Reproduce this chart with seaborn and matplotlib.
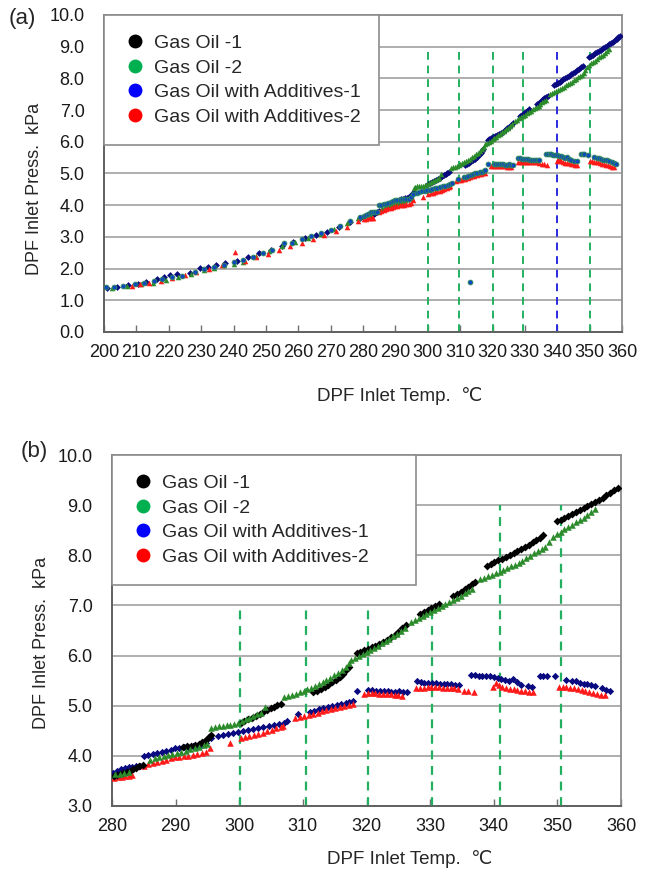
import matplotlib
matplotlib.use("Agg")
import matplotlib.pyplot as plt
from matplotlib.lines import Line2D
from matplotlib.ticker import FormatStrFormatter, MultipleLocator
import pandas as pd
import seaborn as sns

sns.set_theme(style="white")
plt.rcParams["font.family"] = ["Liberation Sans", "DejaVu Sans"]

# ---------------- data (deg C, kPa) ----------------
# 280-360 degC range (shown in both panels)
go1_hi_t = [280.3, 280.8, 281.3, 281.8, 282.3, 282.8, 283.3, 283.8, 284.3, 284.8,
            291.2, 291.8, 292.4, 293.0, 293.6, 294.1, 294.6, 295.0, 295.3, 295.6,
            300.2, 300.8, 301.4, 302.0, 302.6, 303.2, 303.8, 304.4, 305.0, 305.5, 306.0, 306.5,
            311.6, 312.2, 312.8, 313.4, 314.0, 314.6, 315.2, 315.8, 316.3, 316.8, 317.2,
            318.5, 319.0, 319.6, 320.2, 320.8, 321.4, 322.0, 322.6, 323.2, 323.8, 324.4, 325.0, 325.6, 326.2,
            328.4, 329.0, 329.6, 330.2, 330.8, 331.4,
            333.6, 334.2, 334.8, 335.4, 336.0, 336.6, 337.1,
            338.9, 339.5, 340.1, 340.7, 341.3, 341.9, 342.5, 343.1, 343.7, 344.3, 344.9, 345.5,
            346.1, 346.7, 347.3, 347.8,
            349.9, 350.5, 351.1, 351.7, 352.3, 352.9, 353.5, 354.1, 354.7, 355.3, 355.9, 356.5,
            357.1, 357.7, 358.3, 358.9, 359.5]
go1_hi_p = [3.60, 3.62, 3.64, 3.66, 3.68, 3.70, 3.73, 3.76, 3.79, 3.82,
            4.17, 4.19, 4.20, 4.22, 4.24, 4.27, 4.30, 4.34, 4.38, 4.42,
            4.66, 4.70, 4.73, 4.76, 4.80, 4.84, 4.87, 4.91, 4.95, 4.98, 5.01, 5.04,
            5.27, 5.30, 5.34, 5.38, 5.42, 5.47, 5.52, 5.58, 5.64, 5.71, 5.78,
            6.05, 6.08, 6.11, 6.14, 6.17, 6.20, 6.24, 6.28, 6.32, 6.37, 6.42, 6.48, 6.54, 6.60,
            6.82, 6.86, 6.90, 6.94, 6.98, 7.02,
            7.18, 7.22, 7.27, 7.32, 7.37, 7.42, 7.46,
            7.78, 7.82, 7.86, 7.90, 7.93, 7.97, 8.01, 8.05, 8.09, 8.13, 8.17, 8.21,
            8.26, 8.30, 8.35, 8.40,
            8.68, 8.71, 8.75, 8.79, 8.83, 8.87, 8.91, 8.95, 8.99, 9.03, 9.07, 9.11,
            9.15, 9.20, 9.25, 9.30, 9.35]

go2_hi_t = [280.5, 281.2, 281.9, 282.6,
            286.0, 286.7, 287.4, 288.1, 288.8, 289.5, 290.2, 290.9, 291.6, 292.3, 293.0, 293.7, 294.4, 295.0,
            295.6, 296.2, 296.8, 297.4, 298.0, 298.6, 299.2, 299.8,
            300.4, 301.0, 301.6, 302.2, 302.8, 303.4, 304.0,
            307.1, 307.7, 308.3, 308.9, 309.5, 310.1, 310.7, 311.3, 311.9, 312.5, 313.1, 313.7,
            314.3, 314.9, 315.5, 316.1, 316.7, 317.3,
            317.6, 318.2, 318.8, 319.4, 320.0, 320.6, 321.2, 321.8, 322.4, 323.0, 323.6, 324.2,
            324.8, 325.4, 326.0,
            327.0, 327.6, 328.2, 328.8, 329.4, 330.0, 330.6, 331.2, 331.8, 332.4, 333.0, 333.6,
            334.2, 334.8, 335.4, 336.0, 336.5,
            337.9, 338.5, 339.1, 339.7, 340.3, 340.9, 341.5, 342.1, 342.7, 343.3, 343.9, 344.5,
            345.1, 345.7, 346.3, 346.9, 347.5, 348.1, 348.7, 349.3,
            349.9, 350.5, 351.1, 351.7, 352.3, 352.9, 353.5, 354.1, 354.7, 355.3, 355.9]
go2_hi_p = [3.63, 3.64, 3.66, 3.68,
            3.92, 3.95, 3.97, 4.00, 4.02, 4.04, 4.06, 4.08, 4.10, 4.13, 4.15, 4.18, 4.21, 4.24,
            4.55, 4.57, 4.59, 4.60, 4.61, 4.62, 4.64, 4.66,
            4.70, 4.73, 4.76, 4.80, 4.83, 4.86, 4.98,
            5.17, 5.19, 5.21, 5.24, 5.27, 5.30, 5.33, 5.36, 5.39, 5.43, 5.47, 5.51,
            5.56, 5.61, 5.66, 5.72, 5.78, 5.85,
            5.92, 5.96, 6.00, 6.04, 6.08, 6.12, 6.16, 6.20, 6.25, 6.30, 6.34, 6.39,
            6.44, 6.49, 6.55,
            6.66, 6.70, 6.74, 6.78, 6.82, 6.86, 6.90, 6.94, 6.98, 7.02, 7.06, 7.10,
            7.14, 7.19, 7.24, 7.29, 7.33,
            7.52, 7.55, 7.58, 7.61, 7.64, 7.67, 7.70, 7.74, 7.78, 7.81, 7.85, 7.89,
            7.94, 7.98, 8.04, 8.08, 8.12, 8.16, 8.26, 8.36,
            8.42, 8.47, 8.52, 8.56, 8.61, 8.66, 8.70, 8.75, 8.80, 8.86, 8.92]

goa1_hi_t = [280.2, 280.8, 281.4, 282.0, 282.6, 283.2, 283.8, 284.4,
             285.0, 285.7, 286.4, 287.1, 287.8, 288.5, 289.2, 289.9, 290.6, 291.3, 292.0, 292.7,
             293.4, 294.1, 294.8, 295.5,
             296.6, 297.4, 298.2, 299.0, 299.8, 300.6, 301.4, 302.2, 303.0, 303.8, 304.6, 305.4,
             306.2, 307.0, 307.5,
             309.3, 311.1, 311.8, 312.5, 313.2, 313.9, 314.6, 315.3, 316.0, 316.7, 317.3, 317.8,
             318.5, 320.3, 320.9, 321.5, 322.1, 322.7, 323.3, 323.9, 324.5, 325.1, 325.7, 326.3,
             327.9, 328.5, 329.1, 329.7, 330.3, 330.9, 331.5, 332.1, 332.7, 333.3, 333.9, 334.5,
             336.4, 337.0, 337.6, 338.2, 338.8, 339.4, 340.0, 340.6, 341.2, 341.8, 342.4, 343.0,
             343.6, 344.2, 345.3, 346.0,
             347.3, 347.8, 348.4, 349.6, 351.3, 352.3, 352.9, 353.5, 354.1, 354.7, 355.3, 355.9,
             357.0, 357.6, 358.2]
goa1_hi_p = [3.66, 3.70, 3.73, 3.75, 3.77, 3.78, 3.79, 3.80,
             4.00, 4.02, 4.03, 4.05, 4.07, 4.09, 4.12, 4.15, 4.16, 4.17, 4.18, 4.19,
             4.20, 4.21, 4.25, 4.35,
             4.40, 4.42, 4.44, 4.45, 4.47, 4.49, 4.51, 4.53, 4.55, 4.57, 4.59, 4.61,
             4.63, 4.66, 4.69,
             4.84, 4.88, 4.90, 4.93, 4.96, 4.98, 5.00, 5.02, 5.04, 5.06, 5.08, 5.10,
             5.29, 5.31, 5.31, 5.30, 5.30, 5.29, 5.29, 5.28, 5.28, 5.29, 5.28, 5.28,
             5.50, 5.48, 5.46, 5.46, 5.45, 5.45, 5.44, 5.44, 5.43, 5.43, 5.42, 5.42,
             5.61, 5.61, 5.60, 5.60, 5.59, 5.59, 5.58, 5.56, 5.54, 5.52, 5.50, 5.53,
             5.47, 5.41, 5.39, 5.38,
             5.60, 5.60, 5.60, 5.59, 5.52, 5.50, 5.49, 5.46, 5.44, 5.43, 5.41, 5.39,
             5.35, 5.32, 5.30]

goa2_hi_t = [280.3, 280.9, 281.5, 282.1, 282.7, 283.2,
             285.0, 285.7, 286.4, 287.1, 287.8, 288.5, 289.2, 289.9, 290.6, 291.3, 292.0, 292.7,
             293.4, 294.1, 294.8, 295.4,
             298.6, 300.2, 300.9, 301.6, 302.3, 303.0, 303.7, 304.4, 305.1, 305.8, 306.5, 306.9,
             308.8, 309.5, 310.2, 310.9, 311.6, 312.3, 313.0, 313.7, 314.4, 315.1, 315.8, 316.5,
             317.2, 317.8,
             319.6, 320.2, 320.8, 321.4, 322.0, 322.6, 323.2, 323.8, 324.4, 325.0, 325.6,
             327.8, 328.4, 329.0, 329.6, 330.2, 330.8, 331.4, 332.0, 332.6, 333.2, 333.8, 334.4,
             335.3, 336.0, 336.9,
             339.9, 340.3, 340.8, 341.3, 341.9, 342.5, 343.1, 343.7, 344.3, 344.9, 345.5, 346.1,
             350.2, 350.8, 351.4, 352.0, 352.6, 353.2, 353.8, 354.4, 355.0, 355.6, 356.2, 356.8,
             357.4]
goa2_hi_p = [3.56, 3.57, 3.58, 3.59, 3.60, 3.61,
             3.80, 3.83, 3.85, 3.87, 3.90, 3.92, 3.95, 3.97, 3.98, 3.99, 4.00, 4.02,
             4.03, 4.05, 4.08, 4.15,
             4.25, 4.35, 4.37, 4.39, 4.41, 4.44, 4.46, 4.49, 4.52, 4.55, 4.57, 4.59,
             4.76, 4.78, 4.80, 4.82, 4.84, 4.86, 4.89, 4.91, 4.93, 4.95, 4.97, 4.99,
             5.01, 5.03,
             5.24, 5.25, 5.25, 5.25, 5.24, 5.24, 5.23, 5.23, 5.22, 5.21, 5.20,
             5.35, 5.35, 5.36, 5.37, 5.37, 5.37, 5.37, 5.36, 5.36, 5.36, 5.35, 5.34,
             5.30, 5.30, 5.28,
             5.38, 5.46, 5.42, 5.38, 5.36, 5.34, 5.33, 5.32, 5.30, 5.29, 5.28, 5.28,
             5.38, 5.38, 5.37, 5.36, 5.36, 5.33, 5.31, 5.30, 5.28, 5.26, 5.24, 5.22,
             5.21]

# 200-280 degC range (panel a only)
go1_lo_t = [201.0, 204.0, 207.5, 210.5, 213.0, 216.5, 218.5, 220.5, 222.5, 226.5, 229.5, 232.0,
            234.5, 237.5, 241.0, 244.5, 248.0, 251.5, 255.0, 258.5, 262.0, 265.5, 269.0, 272.5,
            276.0, 279.0]
go1_lo_p = [1.40, 1.43, 1.48, 1.52, 1.58, 1.66, 1.74, 1.80, 1.84, 1.86, 2.02, 2.06,
            2.10, 2.17, 2.25, 2.36, 2.48, 2.58, 2.70, 2.85, 2.95, 3.05, 3.15, 3.30,
            3.48, 3.58]
go2_lo_t = [202.5, 207.0, 211.5, 215.0, 219.0, 223.0, 227.0, 231.0, 234.0, 237.0, 240.0, 243.0,
            247.0, 251.0, 255.0, 259.0, 263.0, 267.0, 271.0, 275.0, 278.5]
go2_lo_p = [1.40, 1.45, 1.50, 1.56, 1.64, 1.72, 1.83, 1.96, 2.03, 2.10, 2.15, 2.22,
            2.40, 2.55, 2.70, 2.84, 2.96, 3.08, 3.24, 3.45, 3.60]
goa1_lo_t = [200.5, 203.0, 206.0, 209.5, 212.5, 215.5, 218.0, 221.0, 224.0, 228.0, 231.0, 234.0,
             237.0, 240.0, 243.0, 246.0, 249.0, 252.0, 255.5, 258.0, 261.0, 264.0, 267.0, 270.0,
             273.0, 276.0, 279.0, 313.1]
goa1_lo_p = [1.41, 1.42, 1.46, 1.52, 1.55, 1.61, 1.66, 1.72, 1.78, 1.90, 2.00, 2.06,
             2.12, 2.20, 2.28, 2.38, 2.48, 2.58, 2.80, 2.82, 2.92, 3.02, 3.12, 3.22,
             3.35, 3.50, 3.62, 1.57]
goa2_lo_t = [208.5, 211.0, 214.0, 217.5, 221.0, 225.0, 228.5, 232.5, 236.5, 240.5, 243.5, 247.0,
             250.5, 254.0, 257.5, 261.0, 264.5, 268.0, 271.5, 275.0, 278.5]
goa2_lo_p = [1.45, 1.50, 1.56, 1.62, 1.70, 1.80, 1.90, 2.00, 2.10, 2.53, 2.24, 2.36,
             2.47, 2.58, 2.70, 2.82, 2.93, 3.05, 3.18, 3.32, 3.50]

labels = ["Gas Oil -1", "Gas Oil -2", "Gas Oil with Additives-1", "Gas Oil with Additives-2"]
legend_colors = ["black", "#00b050", "#0000ff", "#ff0000"]

# dashed reference temperatures
a_vlines = [300.0, 309.6, 320.0, 329.5, 340.0, 350.0]
a_vline_colors = ["#22b060", "#22b060", "#22b060", "#22b060", "#2a2ae0", "#22b060"]
b_vlines = [300.1, 310.5, 320.3, 330.3, 340.9, 350.5]
b_vline_tops = [7.0, 7.0, 7.0, 7.0, 9.0, 9.0]


def style_axes(ax, xlim, ylim, xlabel_pos, ylabel_pos):
    ax.set_xlim(*xlim)
    ax.set_ylim(*ylim)
    ax.yaxis.set_major_locator(MultipleLocator(1))
    ax.yaxis.set_major_formatter(FormatStrFormatter("%.1f"))
    ax.xaxis.set_major_locator(MultipleLocator(10))
    ax.yaxis.grid(True, color="#a8a8a8", lw=1.3)
    ax.xaxis.grid(False)
    ax.set_axisbelow(True)
    for side in ["top", "right"]:
        ax.spines[side].set_color("#8c8c8c")
        ax.spines[side].set_linewidth(1.3)
    for side in ["left", "bottom"]:
        ax.spines[side].set_color("#606060")
        ax.spines[side].set_linewidth(1.4)
    ax.tick_params(axis="y", length=0, pad=14, labelsize=13, colors="#1a1a1a")
    ax.tick_params(axis="x", direction="in", length=5, width=1, color="#707070",
                   pad=9, labelsize=13, labelcolor="#1a1a1a", bottom=True)
    ax.set_xlabel("DPF Inlet Temp.  \u2103", fontsize=13.5)
    ax.set_ylabel("DPF Inlet Press.  kPa", fontsize=13)
    ax.xaxis.set_label_coords(*xlabel_pos)
    ax.yaxis.set_label_coords(*ylabel_pos)


def add_legend(ax, width):
    handles = [Line2D([], [], ls="none", marker="o", markersize=10, color=c,
                      markeredgewidth=0) for c in legend_colors]
    leg = ax.legend(handles, labels, loc="upper left", bbox_to_anchor=(0, 1, width, 0),
                    mode="expand", borderaxespad=0, fancybox=False, framealpha=1,
                    edgecolor="#8c8c8c", fontsize=14, handletextpad=0.35,
                    handlelength=1.2, labelspacing=0.36, borderpad=1.0)
    leg.get_frame().set_linewidth(1.2)
    leg.set_zorder(5)


fig = plt.figure(figsize=(6.51, 8.72), dpi=100)

# ---------------- panel (a) ----------------
ax1 = fig.add_axes([0.1598, 0.6193, 0.7957, 0.3635])
style_axes(ax1, (200, 360), (0, 10), (0.571, -0.175), (-0.117, 0.45))
for x, c in zip(a_vlines, a_vline_colors):
    ax1.vlines(x, 0, 9.0, colors=c, linestyles=(0, (4, 3)), lw=1.4, zorder=1)

sns.scatterplot(x=go1_lo_t + go1_hi_t, y=go1_lo_p + go1_hi_p, ax=ax1, marker="D",
                color="#0a0a80", s=12, linewidth=0, zorder=3)
sns.scatterplot(x=go2_lo_t + go2_hi_t, y=go2_lo_p + go2_hi_p, ax=ax1, marker="^",
                color="#2c8c2c", s=16, linewidth=0, zorder=3)
sns.scatterplot(x=goa2_lo_t + goa2_hi_t, y=goa2_lo_p + goa2_hi_p, ax=ax1, marker="^",
                color="#ff1a1a", s=16, linewidth=0, zorder=3)
sns.scatterplot(x=goa1_lo_t + goa1_hi_t, y=goa1_lo_p + goa1_hi_p, ax=ax1, marker="o",
                color="#1048c0", s=12, linewidth=0.6, edgecolor="#2e8b57", zorder=4)
add_legend(ax1, 275 / 518)

# ---------------- panel (b) ----------------
ax2 = fig.add_axes([0.1720, 0.0757, 0.7820, 0.4025])
style_axes(ax2, (280, 360), (3, 10), (0.585, -0.125), (-0.121, 0.465))
for x, top in zip(b_vlines, b_vline_tops):
    ax2.vlines(x, 3.0, top, colors="#22b060", linestyles=(0, (4, 3)), lw=1.6, zorder=1)

sns.scatterplot(x=goa1_hi_t, y=goa1_hi_p, ax=ax2, marker="D", color="#0a0a80",
                s=14, linewidth=0, zorder=3)
sns.scatterplot(x=goa2_hi_t, y=goa2_hi_p, ax=ax2, marker="^", color="#ff1a1a",
                s=22, linewidth=0, zorder=3)
sns.scatterplot(x=go1_hi_t, y=go1_hi_p, ax=ax2, marker="D", color="black",
                s=16, linewidth=0, zorder=3)
sns.scatterplot(x=go2_hi_t, y=go2_hi_p, ax=ax2, marker="^", color="#2c8c2c",
                s=22, linewidth=0, zorder=3)
add_legend(ax2, 304 / 509)

fig.text(0.014, 0.979, "(a)", fontsize=16, va="center", ha="left")
fig.text(0.032, 0.482, "(b)", fontsize=16, va="center", ha="left")

fig.savefig("out.png", dpi=100)
